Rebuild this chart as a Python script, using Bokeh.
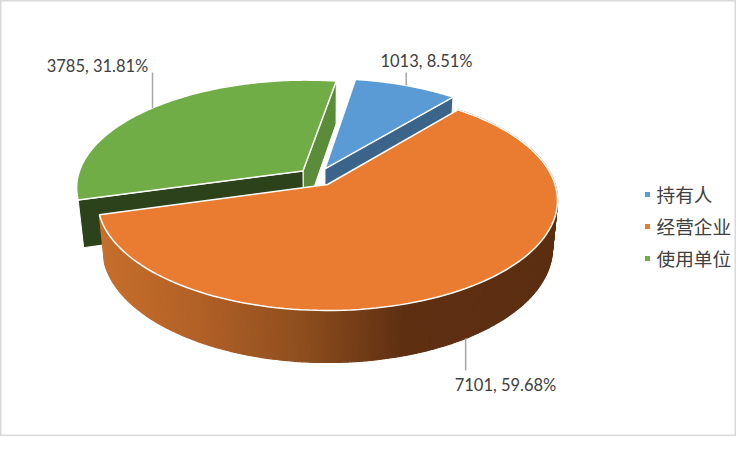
import numpy as np
from bokeh.plotting import figure
from bokeh.models import Range1d
from bokeh.core.properties import value
from bokeh.embed import file_html
from bokeh.resources import INLINE

categories = ["持有人", "经营企业", "使用单位"]
values = [1013, 7101, 3785]
percents = ["8.51%", "59.68%", "31.81%"]
top_colors = ["#5B9BD5", "#EA7C31", "#70AD47"]
wall_colors = ["#3A6489", "#9A5120", "#5B8C39"]
front_wall_color = "#2C421B"

# layout of the projected pie (pixels)
START_DEG = 8.9
X0, Y0 = 327.0, 184.0
A, B, K = 227.6, 107.7, 0.145
EXPLODE = 0.085
DEPTH, BOT_X, BOT_Y = 47.0, 0.978, 1.04
LABEL_FONT = value("Lato")
CJK_FONT = value("Noto Sans CJK SC")
TEXT = "#404040"

total = sum(values)
edges = START_DEG + np.concatenate([[0], np.cumsum(values)]) / total * 360
mids = (edges[:-1] + edges[1:]) / 2


def direction(deg):
    t = np.radians(deg)
    return np.sin(t), -np.cos(t)


od = direction(mids[1])
offsets = []
for m in mids:
    d = direction(m)
    offsets.append((EXPLODE * (d[0] - od[0]), EXPLODE * (d[1] - od[1])))


def project(u, v, bottom=False):
    u, v = np.asarray(u, float), np.asarray(v, float)
    w = 1 - K * v
    x, y = A * u / w, B * v / w
    if bottom:
        return X0 + x * BOT_X, Y0 + DEPTH + y * BOT_Y
    return X0 + x, Y0 + y


def rim(i, deg):
    s, c = direction(deg)
    return s + offsets[i][0], c + offsets[i][1]


def arc(i, a0, a1, n=120):
    return rim(i, np.linspace(a0, a1, n))


def wall(i, deg):
    u, v = rim(i, deg)
    ou, ov = offsets[i]
    x0, y0 = project(ou, ov)
    x1, y1 = project(u, v)
    x2, y2 = project(u, v, True)
    x3, y3 = project(ou, ov, True)
    return [x0, x1, x2, x3], [y0, y1, y2, y3]


def top(i):
    u, v = arc(i, edges[i], edges[i + 1])
    x, y = project(u, v)
    ax, ay = project(*offsets[i])
    return np.r_[ax, x], np.r_[ay, y]


p = figure(width=736, height=436, x_range=Range1d(0, 736), y_range=Range1d(436, 0),
           output_backend="svg", toolbar_location=None, min_border=0,
           background_fill_color="white", border_fill_color="white")
p.axis.visible = False
p.grid.visible = False
p.outline_line_color = "#D9D9D9"
p.outline_line_width = 2

# green slice (index 2)
x, y = wall(2, edges[3])
p.patch(x, y, fill_color=wall_colors[2], line_color="white", line_width=1)
x, y = wall(2, edges[2])
p.patch(x, y, fill_color=front_wall_color, line_color="white", line_width=1)
x, y = top(2)
p.patch(x, y, fill_color=top_colors[2], line_color="white", line_width=1.5)

# blue slice (index 0)
x, y = wall(0, edges[1])
p.patch(x, y, fill_color=wall_colors[0], line_color="white", line_width=1)
x, y = top(0)
p.patch(x, y, fill_color=top_colors[0], line_color="white", line_width=1.5)

# orange slice (index 1): curved side with a horizontal shading
stops_x = [100, 200, 300, 400, 555]
stops_r = [200, 178, 143, 96, 92]
stops_g = [112, 97, 79, 48, 47]
stops_b = [45, 39, 31, 19, 18]
a = np.linspace(edges[1], edges[2], 260)
xs, ys, cols = [], [], []
for a0, a1 in zip(a[:-1], a[1:]):
    u, v = arc(1, a0, a1, 2)
    tx, ty = project(u, v)
    bx, by = project(u, v, True)
    xs.append([tx[0], tx[1], bx[1], bx[0]])
    ys.append([ty[0], ty[1], by[1], by[0]])
    cx = (bx[0] + bx[1]) / 2
    r = np.interp(cx, stops_x, stops_r)
    g = np.interp(cx, stops_x, stops_g)
    b = np.interp(cx, stops_x, stops_b)
    cols.append("#%02X%02X%02X" % (int(r), int(g), int(b)))
p.patches(xs, ys, fill_color=cols, line_color=cols, line_width=1.2)
x, y = top(1)
p.patch(x, y, fill_color=top_colors[1], line_color="white", line_width=1.5)

# leader lines and data labels
label_y = [72, 370, 72]
label_cx = [426, 505, 97]
label_ty = [60, 384, 65]
for i in range(3):
    u, v = rim(i, mids[i])
    lx, ly = project(u, v, bottom=(i == 1))
    p.line([float(lx), float(lx)], [float(ly), label_y[i]], line_color="#A6A6A6", line_width=1.5)
    p.text([label_cx[i]], [label_ty[i]], text=[f"{values[i]}, {percents[i]}"],
           text_font=LABEL_FONT, text_font_size="16.5px", text_color=TEXT,
           text_align="center", text_baseline="middle")

# legend
legend_y = [194, 226, 258]
legend_text_y = [192.5, 224.5, 256.5]
p.scatter([647] * 3, legend_y, marker="square", size=5, color=top_colors, line_color=None)
p.text([656] * 3, legend_text_y, text=categories, text_font=CJK_FONT, text_font_size="18.67px",
       text_color=TEXT, text_align="left", text_baseline="middle")

open("out.html", "w").write(file_html(p, INLINE))
